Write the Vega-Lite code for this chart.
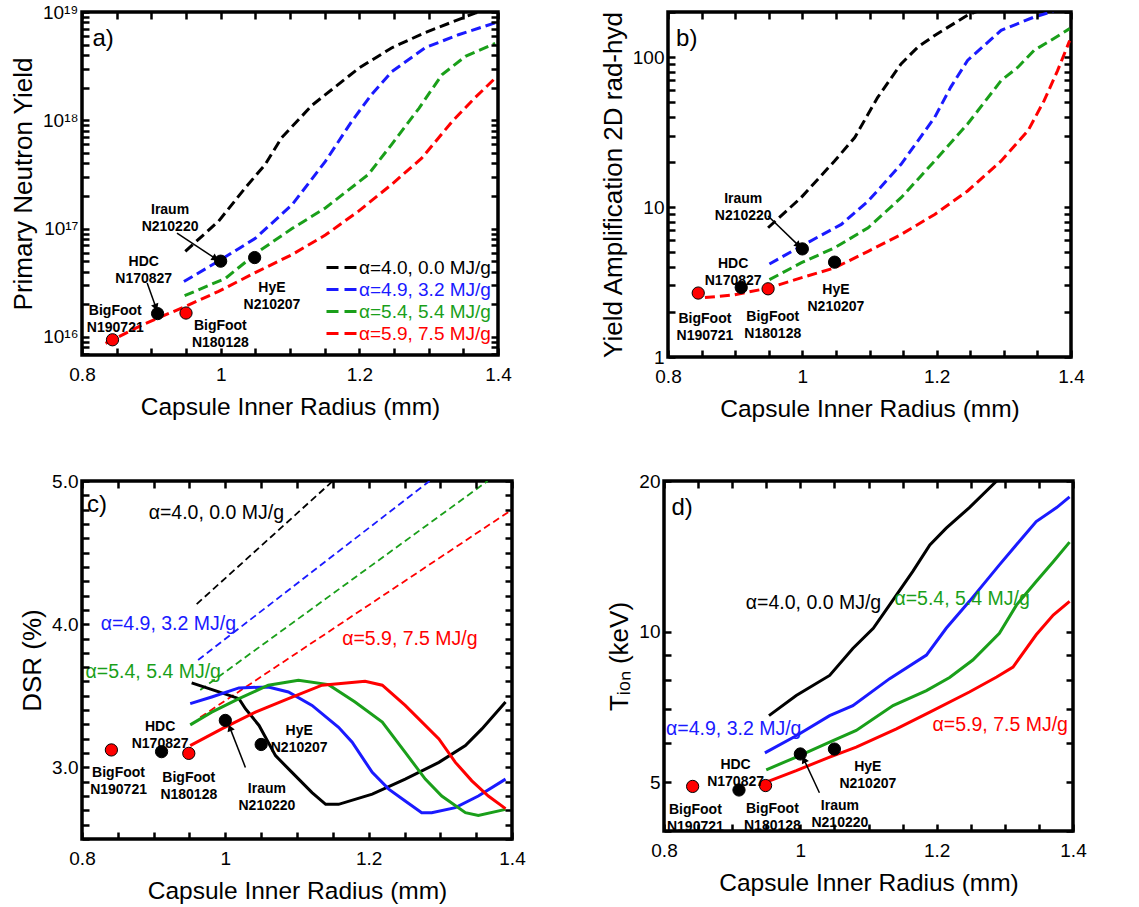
{
  "$schema": "https://vega.github.io/schema/vega-lite/v6.json",
  "background": "white",
  "padding": {"left": 8, "top": 1, "right": 5, "bottom": 5},
  "config": {
    "font": "Liberation Sans",
    "view": {"stroke": "black", "strokeWidth": 3.5, "fill": "transparent"},
    "axis": {"domain": false, "grid": false, "ticks": true, "labelFontSize": 19, "titleFontSize": 24.5, "titleFontWeight": "normal", "labelColor": "black", "titleColor": "black", "tickColor": "black", "tickWidth": 2.5, "tickSize": 7, "offset": -7, "zindex": 2, "labelFont": "Liberation Sans", "titleFont": "Liberation Sans", "labelOverlap": false, "labelFlush": false},
    "axisX": {"labelPadding": 10, "titlePadding": 11},
    "axisY": {"labelPadding": 4, "titleFontSize": 26, "titlePadding": 6},
    "text": {"font": "Liberation Sans"},
    "legend": {"labelFont": "Liberation Sans", "labelFontSize": 19, "symbolType": "M-1.5,0H1.5", "symbolStrokeWidth": 3, "symbolDash": [12, 6], "symbolSize": 400, "labelOffset": 6, "rowPadding": 0, "padding": 0, "title": null}
  },
  "datasets": {
    "a_curves": [
      {"s": "α=4.0, 0.0 MJ/g", "r": 0.949, "v": 6.17e16}, {"s": "α=4.0, 0.0 MJ/g", "r": 0.997, "v": 1.17e17}, {"s": "α=4.0, 0.0 MJ/g", "r": 1.036, "v": 2.4e17}, {"s": "α=4.0, 0.0 MJ/g", "r": 1.064, "v": 3.89e17}, {"s": "α=4.0, 0.0 MJ/g", "r": 1.088, "v": 6.92e17}, {"s": "α=4.0, 0.0 MJ/g", "r": 1.132, "v": 1.38e18}, {"s": "α=4.0, 0.0 MJ/g", "r": 1.199, "v": 3.02e18}, {"s": "α=4.0, 0.0 MJ/g", "r": 1.247, "v": 4.68e18}, {"s": "α=4.0, 0.0 MJ/g", "r": 1.295, "v": 6.46e18}, {"s": "α=4.0, 0.0 MJ/g", "r": 1.367, "v": 9.77e18}, {"s": "α=4.0, 0.0 MJ/g", "r": 1.4, "v": 1.12e19},
      {"s": "α=4.9, 3.2 MJ/g", "r": 0.947, "v": 3.24e16}, {"s": "α=4.9, 3.2 MJ/g", "r": 0.997, "v": 5.01e16}, {"s": "α=4.9, 3.2 MJ/g", "r": 1.05, "v": 8.13e16}, {"s": "α=4.9, 3.2 MJ/g", "r": 1.103, "v": 1.66e17}, {"s": "α=4.9, 3.2 MJ/g", "r": 1.151, "v": 4.17e17}, {"s": "α=4.9, 3.2 MJ/g", "r": 1.189, "v": 9.77e17}, {"s": "α=4.9, 3.2 MJ/g", "r": 1.218, "v": 1.74e18}, {"s": "α=4.9, 3.2 MJ/g", "r": 1.247, "v": 2.82e18}, {"s": "α=4.9, 3.2 MJ/g", "r": 1.295, "v": 4.68e18}, {"s": "α=4.9, 3.2 MJ/g", "r": 1.343, "v": 6.17e18}, {"s": "α=4.9, 3.2 MJ/g", "r": 1.396, "v": 7.94e18},
      {"s": "α=5.4, 5.4 MJ/g", "r": 0.948, "v": 2.4e16}, {"s": "α=5.4, 5.4 MJ/g", "r": 1.007, "v": 3.47e16}, {"s": "α=5.4, 5.4 MJ/g", "r": 1.055, "v": 6.17e16}, {"s": "α=5.4, 5.4 MJ/g", "r": 1.103, "v": 1.0e17}, {"s": "α=5.4, 5.4 MJ/g", "r": 1.151, "v": 1.55e17}, {"s": "α=5.4, 5.4 MJ/g", "r": 1.213, "v": 3.16e17}, {"s": "α=5.4, 5.4 MJ/g", "r": 1.247, "v": 6.03e17}, {"s": "α=5.4, 5.4 MJ/g", "r": 1.286, "v": 1.29e18}, {"s": "α=5.4, 5.4 MJ/g", "r": 1.319, "v": 2.63e18}, {"s": "α=5.4, 5.4 MJ/g", "r": 1.353, "v": 3.89e18}, {"s": "α=5.4, 5.4 MJ/g", "r": 1.396, "v": 5.13e18},
      {"s": "α=5.9, 7.5 MJ/g", "r": 0.834, "v": 8.71e15}, {"s": "α=5.9, 7.5 MJ/g", "r": 0.887, "v": 1.29e16}, {"s": "α=5.9, 7.5 MJ/g", "r": 0.949, "v": 1.91e16}, {"s": "α=5.9, 7.5 MJ/g", "r": 0.997, "v": 2.63e16}, {"s": "α=5.9, 7.5 MJ/g", "r": 1.055, "v": 4.07e16}, {"s": "α=5.9, 7.5 MJ/g", "r": 1.103, "v": 5.75e16}, {"s": "α=5.9, 7.5 MJ/g", "r": 1.151, "v": 8.71e16}, {"s": "α=5.9, 7.5 MJ/g", "r": 1.199, "v": 1.45e17}, {"s": "α=5.9, 7.5 MJ/g", "r": 1.247, "v": 2.57e17}, {"s": "α=5.9, 7.5 MJ/g", "r": 1.29, "v": 4.47e17}, {"s": "α=5.9, 7.5 MJ/g", "r": 1.334, "v": 9.77e17}, {"s": "α=5.9, 7.5 MJ/g", "r": 1.367, "v": 1.62e18}, {"s": "α=5.9, 7.5 MJ/g", "r": 1.396, "v": 2.45e18}
    ],
    "b_curves": [
      {"s": "α=4.0, 0.0 MJ/g", "r": 0.949, "v": 7.28}, {"s": "α=4.0, 0.0 MJ/g", "r": 0.998, "v": 11.55}, {"s": "α=4.0, 0.0 MJ/g", "r": 1.048, "v": 20.3}, {"s": "α=4.0, 0.0 MJ/g", "r": 1.078, "v": 29.1}, {"s": "α=4.0, 0.0 MJ/g", "r": 1.112, "v": 53.7}, {"s": "α=4.0, 0.0 MJ/g", "r": 1.147, "v": 90.2}, {"s": "α=4.0, 0.0 MJ/g", "r": 1.172, "v": 116.7}, {"s": "α=4.0, 0.0 MJ/g", "r": 1.197, "v": 139.6}, {"s": "α=4.0, 0.0 MJ/g", "r": 1.246, "v": 190.5}, {"s": "α=4.0, 0.0 MJ/g", "r": 1.27, "v": 210},
      {"s": "α=4.9, 3.2 MJ/g", "r": 0.951, "v": 4.17}, {"s": "α=4.9, 3.2 MJ/g", "r": 0.998, "v": 5.48}, {"s": "α=4.9, 3.2 MJ/g", "r": 1.058, "v": 7.66}, {"s": "α=4.9, 3.2 MJ/g", "r": 1.098, "v": 10.96}, {"s": "α=4.9, 3.2 MJ/g", "r": 1.147, "v": 19.3}, {"s": "α=4.9, 3.2 MJ/g", "r": 1.197, "v": 39.6}, {"s": "α=4.9, 3.2 MJ/g", "r": 1.221, "v": 63.1}, {"s": "α=4.9, 3.2 MJ/g", "r": 1.246, "v": 95.1}, {"s": "α=4.9, 3.2 MJ/g", "r": 1.296, "v": 151}, {"s": "α=4.9, 3.2 MJ/g", "r": 1.345, "v": 185}, {"s": "α=4.9, 3.2 MJ/g", "r": 1.37, "v": 200}, {"s": "α=4.9, 3.2 MJ/g", "r": 1.38, "v": 210},
      {"s": "α=5.4, 5.4 MJ/g", "r": 0.951, "v": 3.28}, {"s": "α=5.4, 5.4 MJ/g", "r": 0.998, "v": 4.24}, {"s": "α=5.4, 5.4 MJ/g", "r": 1.048, "v": 5.35}, {"s": "α=5.4, 5.4 MJ/g", "r": 1.098, "v": 7.28}, {"s": "α=5.4, 5.4 MJ/g", "r": 1.147, "v": 11.55}, {"s": "α=5.4, 5.4 MJ/g", "r": 1.197, "v": 20.3}, {"s": "α=5.4, 5.4 MJ/g", "r": 1.246, "v": 35.8}, {"s": "α=5.4, 5.4 MJ/g", "r": 1.296, "v": 69.8}, {"s": "α=5.4, 5.4 MJ/g", "r": 1.321, "v": 85.7}, {"s": "α=5.4, 5.4 MJ/g", "r": 1.345, "v": 110.9}, {"s": "α=5.4, 5.4 MJ/g", "r": 1.37, "v": 129.4}, {"s": "α=5.4, 5.4 MJ/g", "r": 1.398, "v": 154.9},
      {"s": "α=5.9, 7.5 MJ/g", "r": 0.855, "v": 2.49}, {"s": "α=5.9, 7.5 MJ/g", "r": 0.899, "v": 2.6}, {"s": "α=5.9, 7.5 MJ/g", "r": 0.949, "v": 2.88}, {"s": "α=5.9, 7.5 MJ/g", "r": 0.998, "v": 3.37}, {"s": "α=5.9, 7.5 MJ/g", "r": 1.048, "v": 3.93}, {"s": "α=5.9, 7.5 MJ/g", "r": 1.098, "v": 5.07}, {"s": "α=5.9, 7.5 MJ/g", "r": 1.147, "v": 6.56}, {"s": "α=5.9, 7.5 MJ/g", "r": 1.197, "v": 8.93}, {"s": "α=5.9, 7.5 MJ/g", "r": 1.246, "v": 12.8}, {"s": "α=5.9, 7.5 MJ/g", "r": 1.296, "v": 20.3}, {"s": "α=5.9, 7.5 MJ/g", "r": 1.336, "v": 32.3}, {"s": "α=5.9, 7.5 MJ/g", "r": 1.36, "v": 51.3}, {"s": "α=5.9, 7.5 MJ/g", "r": 1.38, "v": 81.3}, {"s": "α=5.9, 7.5 MJ/g", "r": 1.398, "v": 128.8}
    ],
    "c_dash": [
      {"s": "α=4.0, 0.0 MJ/g", "r": 0.96, "v": 4.14}, {"s": "α=4.0, 0.0 MJ/g", "r": 1.15, "v": 5.0},
      {"s": "α=4.9, 3.2 MJ/g", "r": 0.962, "v": 3.75}, {"s": "α=4.9, 3.2 MJ/g", "r": 1.285, "v": 5.0},
      {"s": "α=5.4, 5.4 MJ/g", "r": 0.965, "v": 3.54}, {"s": "α=5.4, 5.4 MJ/g", "r": 1.366, "v": 5.0},
      {"s": "α=5.9, 7.5 MJ/g", "r": 0.965, "v": 3.35}, {"s": "α=5.9, 7.5 MJ/g", "r": 1.4, "v": 4.8}
    ],
    "c_solid": [
      {"s": "α=4.0, 0.0 MJ/g", "r": 0.953, "v": 3.59}, {"s": "α=4.0, 0.0 MJ/g", "r": 0.991, "v": 3.527}, {"s": "α=4.0, 0.0 MJ/g", "r": 1.019, "v": 3.48}, {"s": "α=4.0, 0.0 MJ/g", "r": 1.028, "v": 3.41}, {"s": "α=4.0, 0.0 MJ/g", "r": 1.047, "v": 3.293}, {"s": "α=4.0, 0.0 MJ/g", "r": 1.07, "v": 3.082}, {"s": "α=4.0, 0.0 MJ/g", "r": 1.093, "v": 2.965}, {"s": "α=4.0, 0.0 MJ/g", "r": 1.121, "v": 2.824}, {"s": "α=4.0, 0.0 MJ/g", "r": 1.14, "v": 2.742}, {"s": "α=4.0, 0.0 MJ/g", "r": 1.158, "v": 2.742}, {"s": "α=4.0, 0.0 MJ/g", "r": 1.205, "v": 2.813}, {"s": "α=4.0, 0.0 MJ/g", "r": 1.251, "v": 2.918}, {"s": "α=4.0, 0.0 MJ/g", "r": 1.298, "v": 3.035}, {"s": "α=4.0, 0.0 MJ/g", "r": 1.335, "v": 3.152}, {"s": "α=4.0, 0.0 MJ/g", "r": 1.358, "v": 3.269}, {"s": "α=4.0, 0.0 MJ/g", "r": 1.391, "v": 3.457},
      {"s": "α=4.9, 3.2 MJ/g", "r": 0.951, "v": 3.445}, {"s": "α=4.9, 3.2 MJ/g", "r": 0.981, "v": 3.492}, {"s": "α=4.9, 3.2 MJ/g", "r": 1.019, "v": 3.555}, {"s": "α=4.9, 3.2 MJ/g", "r": 1.06, "v": 3.562}, {"s": "α=4.9, 3.2 MJ/g", "r": 1.088, "v": 3.527}, {"s": "α=4.9, 3.2 MJ/g", "r": 1.121, "v": 3.433}, {"s": "α=4.9, 3.2 MJ/g", "r": 1.158, "v": 3.28}, {"s": "α=4.9, 3.2 MJ/g", "r": 1.177, "v": 3.176}, {"s": "α=4.9, 3.2 MJ/g", "r": 1.205, "v": 2.965}, {"s": "α=4.9, 3.2 MJ/g", "r": 1.228, "v": 2.848}, {"s": "α=4.9, 3.2 MJ/g", "r": 1.251, "v": 2.766}, {"s": "α=4.9, 3.2 MJ/g", "r": 1.274, "v": 2.684}, {"s": "α=4.9, 3.2 MJ/g", "r": 1.288, "v": 2.684}, {"s": "α=4.9, 3.2 MJ/g", "r": 1.321, "v": 2.719}, {"s": "α=4.9, 3.2 MJ/g", "r": 1.353, "v": 2.8}, {"s": "α=4.9, 3.2 MJ/g", "r": 1.391, "v": 2.918},
      {"s": "α=5.4, 5.4 MJ/g", "r": 0.951, "v": 3.297}, {"s": "α=5.4, 5.4 MJ/g", "r": 0.981, "v": 3.386}, {"s": "α=5.4, 5.4 MJ/g", "r": 1.019, "v": 3.48}, {"s": "α=5.4, 5.4 MJ/g", "r": 1.06, "v": 3.574}, {"s": "α=5.4, 5.4 MJ/g", "r": 1.102, "v": 3.609}, {"s": "α=5.4, 5.4 MJ/g", "r": 1.144, "v": 3.578}, {"s": "α=5.4, 5.4 MJ/g", "r": 1.181, "v": 3.457}, {"s": "α=5.4, 5.4 MJ/g", "r": 1.219, "v": 3.316}, {"s": "α=5.4, 5.4 MJ/g", "r": 1.251, "v": 3.105}, {"s": "α=5.4, 5.4 MJ/g", "r": 1.279, "v": 2.918}, {"s": "α=5.4, 5.4 MJ/g", "r": 1.302, "v": 2.8}, {"s": "α=5.4, 5.4 MJ/g", "r": 1.335, "v": 2.684}, {"s": "α=5.4, 5.4 MJ/g", "r": 1.353, "v": 2.665}, {"s": "α=5.4, 5.4 MJ/g", "r": 1.391, "v": 2.707},
      {"s": "α=5.9, 7.5 MJ/g", "r": 0.951, "v": 3.152}, {"s": "α=5.9, 7.5 MJ/g", "r": 0.995, "v": 3.269}, {"s": "α=5.9, 7.5 MJ/g", "r": 1.042, "v": 3.386}, {"s": "α=5.9, 7.5 MJ/g", "r": 1.088, "v": 3.48}, {"s": "α=5.9, 7.5 MJ/g", "r": 1.135, "v": 3.574}, {"s": "α=5.9, 7.5 MJ/g", "r": 1.195, "v": 3.602}, {"s": "α=5.9, 7.5 MJ/g", "r": 1.219, "v": 3.574}, {"s": "α=5.9, 7.5 MJ/g", "r": 1.251, "v": 3.433}, {"s": "α=5.9, 7.5 MJ/g", "r": 1.298, "v": 3.199}, {"s": "α=5.9, 7.5 MJ/g", "r": 1.321, "v": 3.035}, {"s": "α=5.9, 7.5 MJ/g", "r": 1.344, "v": 2.906}, {"s": "α=5.9, 7.5 MJ/g", "r": 1.367, "v": 2.8}, {"s": "α=5.9, 7.5 MJ/g", "r": 1.391, "v": 2.712}
    ],
    "d_curves": [
      {"s": "α=4.0, 0.0 MJ/g", "r": 0.954, "v": 6.8}, {"s": "α=4.0, 0.0 MJ/g", "r": 0.994, "v": 7.46}, {"s": "α=4.0, 0.0 MJ/g", "r": 1.043, "v": 8.18}, {"s": "α=4.0, 0.0 MJ/g", "r": 1.077, "v": 9.26}, {"s": "α=4.0, 0.0 MJ/g", "r": 1.107, "v": 10.16}, {"s": "α=4.0, 0.0 MJ/g", "r": 1.131, "v": 11.32}, {"s": "α=4.0, 0.0 MJ/g", "r": 1.165, "v": 13.2}, {"s": "α=4.0, 0.0 MJ/g", "r": 1.19, "v": 14.9}, {"s": "α=4.0, 0.0 MJ/g", "r": 1.214, "v": 16.1}, {"s": "α=4.0, 0.0 MJ/g", "r": 1.248, "v": 17.7}, {"s": "α=4.0, 0.0 MJ/g", "r": 1.288, "v": 20.0},
      {"s": "α=4.9, 3.2 MJ/g", "r": 0.948, "v": 5.73}, {"s": "α=4.9, 3.2 MJ/g", "r": 0.994, "v": 6.2}, {"s": "α=4.9, 3.2 MJ/g", "r": 1.043, "v": 6.8}, {"s": "α=4.9, 3.2 MJ/g", "r": 1.077, "v": 7.12}, {"s": "α=4.9, 3.2 MJ/g", "r": 1.131, "v": 8.06}, {"s": "α=4.9, 3.2 MJ/g", "r": 1.185, "v": 8.98}, {"s": "α=4.9, 3.2 MJ/g", "r": 1.214, "v": 10.16}, {"s": "α=4.9, 3.2 MJ/g", "r": 1.248, "v": 11.5}, {"s": "α=4.9, 3.2 MJ/g", "r": 1.292, "v": 13.6}, {"s": "α=4.9, 3.2 MJ/g", "r": 1.322, "v": 15.2}, {"s": "α=4.9, 3.2 MJ/g", "r": 1.346, "v": 16.6}, {"s": "α=4.9, 3.2 MJ/g", "r": 1.376, "v": 17.7}, {"s": "α=4.9, 3.2 MJ/g", "r": 1.395, "v": 18.6},
      {"s": "α=5.4, 5.4 MJ/g", "r": 0.95, "v": 5.3}, {"s": "α=5.4, 5.4 MJ/g", "r": 0.994, "v": 5.62}, {"s": "α=5.4, 5.4 MJ/g", "r": 1.043, "v": 6.02}, {"s": "α=5.4, 5.4 MJ/g", "r": 1.082, "v": 6.35}, {"s": "α=5.4, 5.4 MJ/g", "r": 1.136, "v": 7.12}, {"s": "α=5.4, 5.4 MJ/g", "r": 1.185, "v": 7.63}, {"s": "α=5.4, 5.4 MJ/g", "r": 1.219, "v": 8.1}, {"s": "α=5.4, 5.4 MJ/g", "r": 1.253, "v": 8.78}, {"s": "α=5.4, 5.4 MJ/g", "r": 1.292, "v": 9.93}, {"s": "α=5.4, 5.4 MJ/g", "r": 1.317, "v": 11.3}, {"s": "α=5.4, 5.4 MJ/g", "r": 1.346, "v": 12.6}, {"s": "α=5.4, 5.4 MJ/g", "r": 1.371, "v": 13.8}, {"s": "α=5.4, 5.4 MJ/g", "r": 1.395, "v": 15.1},
      {"s": "α=5.9, 7.5 MJ/g", "r": 0.95, "v": 5.01}, {"s": "α=5.9, 7.5 MJ/g", "r": 0.994, "v": 5.28}, {"s": "α=5.9, 7.5 MJ/g", "r": 1.043, "v": 5.62}, {"s": "α=5.9, 7.5 MJ/g", "r": 1.082, "v": 5.88}, {"s": "α=5.9, 7.5 MJ/g", "r": 1.141, "v": 6.4}, {"s": "α=5.9, 7.5 MJ/g", "r": 1.19, "v": 6.91}, {"s": "α=5.9, 7.5 MJ/g", "r": 1.248, "v": 7.58}, {"s": "α=5.9, 7.5 MJ/g", "r": 1.288, "v": 8.12}, {"s": "α=5.9, 7.5 MJ/g", "r": 1.312, "v": 8.5}, {"s": "α=5.9, 7.5 MJ/g", "r": 1.346, "v": 9.86}, {"s": "α=5.9, 7.5 MJ/g", "r": 1.371, "v": 10.8}, {"s": "α=5.9, 7.5 MJ/g", "r": 1.395, "v": 11.5}
    ],
    "a_pts": [
      {"r": 0.844, "v": 9.4e15, "g": "BigFoot", "lab": "BigFoot\nN190721", "lr": 0.848, "lv": 1.73e16},
      {"r": 0.909, "v": 1.64e16, "g": "Other", "lab": "HDC\nN170827", "lr": 0.889, "lv": 4.89e16},
      {"r": 0.95, "v": 1.66e16, "g": "BigFoot", "lab": "BigFoot\nN180128", "lr": 0.9995, "lv": 1.27e16},
      {"r": 1.0, "v": 5.0e16, "g": "Other", "lab": "Iraum\nN210220", "lr": 0.927, "lv": 1.47e17},
      {"r": 1.049, "v": 5.4e16, "g": "Other", "lab": "HyE\nN210207", "lr": 1.074, "lv": 2.83e16}
    ],
    "b_pts": [
      {"r": 0.845, "v": 2.67, "g": "BigFoot", "lab": "BigFoot\nN190721", "lr": 0.855, "lv": 1.79},
      {"r": 0.909, "v": 2.91, "g": "Other", "lab": "HDC\nN170827", "lr": 0.897, "lv": 4.18},
      {"r": 0.949, "v": 2.85, "g": "BigFoot", "lab": "BigFoot\nN180128", "lr": 0.956, "lv": 1.85},
      {"r": 1.0, "v": 5.26, "g": "Other", "lab": "Iraum\nN210220", "lr": 0.912, "lv": 11.4},
      {"r": 1.048, "v": 4.29, "g": "Other", "lab": "HyE\nN210207", "lr": 1.05, "lv": 2.81}
    ],
    "c_pts": [
      {"r": 0.841, "v": 3.122, "g": "BigFoot", "lab": "BigFoot\nN190721", "lr": 0.851, "lv": 2.96},
      {"r": 0.911, "v": 3.11, "g": "Other", "lab": "HDC\nN170827", "lr": 0.909, "lv": 3.283},
      {"r": 0.949, "v": 3.098, "g": "BigFoot", "lab": "BigFoot\nN180128", "lr": 0.949, "lv": 2.925},
      {"r": 1.0, "v": 3.328, "g": "Other", "lab": "Iraum\nN210220", "lr": 1.058, "lv": 2.848},
      {"r": 1.05, "v": 3.16, "g": "Other", "lab": "HyE\nN210207", "lr": 1.103, "lv": 3.251}
    ],
    "d_pts": [
      {"r": 0.842, "v": 4.91, "g": "BigFoot", "lab": "BigFoot\nN190721", "lr": 0.846, "lv": 4.4},
      {"r": 0.91, "v": 4.83, "g": "Other", "lab": "HDC\nN170827", "lr": 0.905, "lv": 5.41},
      {"r": 0.949, "v": 4.93, "g": "BigFoot", "lab": "BigFoot\nN180128", "lr": 0.959, "lv": 4.42},
      {"r": 1.0, "v": 5.7, "g": "Other", "lab": "Iraum\nN210220", "lr": 1.058, "lv": 4.48},
      {"r": 1.05, "v": 5.83, "g": "Other", "lab": "HyE\nN210207", "lr": 1.099, "lv": 5.36}
    ],
    "a_arrows": [{"r": 0.937, "v": 9.1e16, "r2": 0.991, "v2": 5.36e16, "ang": 123.6}, {"r": 0.894, "v": 3.15e16, "r2": 0.906, "v2": 1.92e16, "ang": 160}],
    "b_arrows": [{"r": 0.949, "v": 8.71, "r2": 0.993, "v2": 5.62, "ang": 133.4}],
    "c_arrows": [{"r": 1.028, "v": 3.0, "r2": 1.007, "v2": 3.269, "ang": 338.6}],
    "d_arrows": [{"r": 1.028, "v": 4.77, "r2": 1.006, "v2": 5.53, "ang": 334.7}],
    "a_tag": [{"r": 0.815, "v": 5.6e18, "t": "a)"}],
    "b_tag": [{"r": 0.812, "v": 133, "t": "b)"}],
    "c_tag": [{"r": 0.807, "v": 4.83, "t": "c)"}],
    "d_tag": [{"r": 0.811, "v": 17.7, "t": "d)"}],
    "c_cl": [
      {"r": 0.893, "v": 4.78, "s": "α=4.0, 0.0 MJ/g"}, {"r": 0.826, "v": 4.0, "s": "α=4.9, 3.2 MJ/g"}, {"r": 0.805, "v": 3.663, "s": "α=5.4, 5.4 MJ/g"}, {"r": 1.163, "v": 3.897, "s": "α=5.9, 7.5 MJ/g"}
    ],
    "d_cl": [
      {"r": 0.92, "v": 11.4, "s": "α=4.0, 0.0 MJ/g"}, {"r": 0.803, "v": 6.4, "s": "α=4.9, 3.2 MJ/g"}, {"r": 1.138, "v": 11.6, "s": "α=5.4, 5.4 MJ/g"}, {"r": 1.194, "v": 6.5, "s": "α=5.9, 7.5 MJ/g"}
    ]
  },
  "vconcat": [
    {
      "hconcat": [
        {
          "width": 416, "height": 343,
          "resolve": {"axis": {"x": "independent", "y": "independent"}},
          "layer": [
            {
              "data": {"name": "a_curves"},
              "mark": {"type": "line", "strokeWidth": 3, "strokeDash": [10, 5], "clip": true},
              "encoding": {
                "x": {"field": "r", "type": "quantitative", "scale": {"domain": [0.8, 1.4], "nice": false, "zero": false},
                  "axis": {"orient": "bottom", "title": "Capsule Inner Radius (mm)", "ticks": true, "tickColor": "black", "tickSize": 7, "tickWidth": 2.5, "offset": -7, "zindex": 2, "values": [0.8, 0.85, 0.9, 0.95, 1, 1.05, 1.1, 1.15, 1.2, 1.25, 1.3, 1.35, 1.4], "labelExpr": "abs(datum.value*5-round(datum.value*5))<1e-6 ? (datum.value==1 ? '1' : format(datum.value, '.1f')) : ''"}},
                "y": {"field": "v", "type": "quantitative", "scale": {"type": "log", "domain": [6.8e15, 1e19], "nice": false},
                  "axis": {"orient": "left", "title": "Primary Neutron Yield", "ticks": true, "tickColor": "black", "tickSize": 7, "tickWidth": 2.5, "offset": -7, "zindex": 2, "values": [7e15, 8e15, 9e15, 1e16, 2e16, 3e16, 4e16, 5e16, 6e16, 7e16, 8e16, 9e16, 1e17, 2e17, 3e17, 4e17, 5e17, 6e17, 7e17, 8e17, 9e17, 1e18, 2e18, 3e18, 4e18, 5e18, 6e18, 7e18, 8e18, 9e18, 1e19], "labelExpr": "datum.value==1e16 ? '10¹⁶' : datum.value==1e17 ? '10¹⁷' : datum.value==1e18 ? '10¹⁸' : datum.value==1e19 ? '10¹⁹' : ''"}},
                "color": {"field": "s", "type": "nominal", "scale": {"domain": ["α=4.0, 0.0 MJ/g", "α=4.9, 3.2 MJ/g", "α=5.4, 5.4 MJ/g", "α=5.9, 7.5 MJ/g"], "range": ["#000000", "#1a1aff", "#1a9f1a", "#ff0000"]},
                  "legend": {"orient": "none", "legendX": 248, "legendY": 244, "encode": {"labels": {"update": {"fill": {"signal": "datum.value=='α=4.0, 0.0 MJ/g' ? '#000000' : datum.value=='α=4.9, 3.2 MJ/g' ? '#1a1aff' : datum.value=='α=5.4, 5.4 MJ/g' ? '#1a9f1a' : '#ff0000'"}}}}}}
              }
            },
            {
              "data": {"name": "a_arrows"},
              "mark": {"type": "rule", "strokeWidth": 1.5, "color": "black"},
              "encoding": {"x": {"field": "r", "type": "quantitative", "axis": null}, "y": {"field": "v", "type": "quantitative", "axis": null}, "x2": {"field": "r2"}, "y2": {"field": "v2"}}
            },
            {
              "data": {"name": "a_arrows"},
              "mark": {"type": "point", "shape": "triangle", "filled": true, "color": "black", "size": 60, "opacity": 1},
              "encoding": {"x": {"field": "r2", "type": "quantitative", "axis": null}, "y": {"field": "v2", "type": "quantitative", "axis": null}, "angle": {"field": "ang", "type": "quantitative", "scale": null}}
            },
            {
              "data": {"name": "a_pts"},
              "mark": {"type": "circle", "size": 150, "stroke": "black", "strokeWidth": 1, "opacity": 1},
              "encoding": {
                "x": {"field": "r", "type": "quantitative", "axis": {"orient": "top", "labels": false, "title": null, "ticks": true, "tickColor": "black", "tickSize": 7, "tickWidth": 2.5, "offset": -7, "zindex": 2, "values": [0.8, 0.85, 0.9, 0.95, 1, 1.05, 1.1, 1.15, 1.2, 1.25, 1.3, 1.35, 1.4]}},
                "y": {"field": "v", "type": "quantitative", "axis": {"orient": "right", "labels": false, "title": null, "ticks": true, "tickColor": "black", "tickSize": 7, "tickWidth": 2.5, "offset": -7, "zindex": 2, "values": [7e15, 8e15, 9e15, 1e16, 2e16, 3e16, 4e16, 5e16, 6e16, 7e16, 8e16, 9e16, 1e17, 2e17, 3e17, 4e17, 5e17, 6e17, 7e17, 8e17, 9e17, 1e18, 2e18, 3e18, 4e18, 5e18, 6e18, 7e18, 8e18, 9e18, 1e19]}},
                "fill": {"field": "g", "type": "nominal", "scale": {"domain": ["BigFoot", "Other"], "range": ["#ff0000", "#000000"]}, "legend": null}
              }
            },
            {
              "data": {"name": "a_pts"},
              "mark": {"type": "text", "fontWeight": "bold", "fontSize": 14, "lineBreak": "\n", "lineHeight": 17, "align": "center", "baseline": "middle", "color": "black"},
              "encoding": {"x": {"field": "lr", "type": "quantitative", "axis": null}, "y": {"field": "lv", "type": "quantitative", "axis": null}, "text": {"field": "lab"}}
            },
            {
              "data": {"name": "a_tag"},
              "mark": {"type": "text", "fontSize": 24, "align": "left", "baseline": "middle", "color": "black"},
              "encoding": {"x": {"field": "r", "type": "quantitative", "axis": null}, "y": {"field": "v", "type": "quantitative", "axis": null}, "text": {"field": "t"}}
            }
          ]
        },
        {
          "width": 403, "height": 345,
          "resolve": {"axis": {"x": "independent", "y": "independent"}},
          "layer": [
            {
              "data": {"name": "b_curves"},
              "mark": {"type": "line", "strokeWidth": 3, "strokeDash": [10, 5], "clip": true},
              "encoding": {
                "x": {"field": "r", "type": "quantitative", "scale": {"domain": [0.8, 1.4], "nice": false, "zero": false},
                  "axis": {"orient": "bottom", "title": "Capsule Inner Radius (mm)", "ticks": true, "tickColor": "black", "tickSize": 7, "tickWidth": 2.5, "offset": -7, "zindex": 2, "values": [0.8, 0.85, 0.9, 0.95, 1, 1.05, 1.1, 1.15, 1.2, 1.25, 1.3, 1.35, 1.4], "labelExpr": "abs(datum.value*5-round(datum.value*5))<1e-6 ? (datum.value==1 ? '1' : format(datum.value, '.1f')) : ''"}},
                "y": {"field": "v", "type": "quantitative", "scale": {"type": "log", "domain": [1, 200], "nice": false},
                  "axis": {"orient": "left", "title": "Yield Amplification 2D rad-hyd", "ticks": true, "tickColor": "black", "tickSize": 7, "tickWidth": 2.5, "offset": -7, "zindex": 2, "values": [1, 2, 3, 4, 5, 6, 7, 8, 9, 10, 20, 30, 40, 50, 60, 70, 80, 90, 100, 200], "labelExpr": "datum.value==1 || datum.value==10 || datum.value==100 ? datum.label : ''"}},
                "color": {"field": "s", "type": "nominal", "scale": {"domain": ["α=4.0, 0.0 MJ/g", "α=4.9, 3.2 MJ/g", "α=5.4, 5.4 MJ/g", "α=5.9, 7.5 MJ/g"], "range": ["#000000", "#1a1aff", "#1a9f1a", "#ff0000"]},
                  "legend": {"orient": "none", "legendX": 237, "legendY": 243, "encode": {"labels": {"update": {"fill": {"signal": "datum.value=='α=4.0, 0.0 MJ/g' ? '#000000' : datum.value=='α=4.9, 3.2 MJ/g' ? '#1a1aff' : datum.value=='α=5.4, 5.4 MJ/g' ? '#1a9f1a' : '#ff0000'"}}}}}}
              }
            },
            {
              "data": {"name": "b_arrows"},
              "mark": {"type": "rule", "strokeWidth": 1.5, "color": "black"},
              "encoding": {"x": {"field": "r", "type": "quantitative", "axis": null}, "y": {"field": "v", "type": "quantitative", "axis": null}, "x2": {"field": "r2"}, "y2": {"field": "v2"}}
            },
            {
              "data": {"name": "b_arrows"},
              "mark": {"type": "point", "shape": "triangle", "filled": true, "color": "black", "size": 60, "opacity": 1},
              "encoding": {"x": {"field": "r2", "type": "quantitative", "axis": null}, "y": {"field": "v2", "type": "quantitative", "axis": null}, "angle": {"field": "ang", "type": "quantitative", "scale": null}}
            },
            {
              "data": {"name": "b_pts"},
              "mark": {"type": "circle", "size": 150, "stroke": "black", "strokeWidth": 1, "opacity": 1},
              "encoding": {
                "x": {"field": "r", "type": "quantitative", "axis": {"orient": "top", "labels": false, "title": null, "ticks": true, "tickColor": "black", "tickSize": 7, "tickWidth": 2.5, "offset": -7, "zindex": 2, "values": [0.8, 0.85, 0.9, 0.95, 1, 1.05, 1.1, 1.15, 1.2, 1.25, 1.3, 1.35, 1.4]}},
                "y": {"field": "v", "type": "quantitative", "axis": {"orient": "right", "labels": false, "title": null, "ticks": true, "tickColor": "black", "tickSize": 7, "tickWidth": 2.5, "offset": -7, "zindex": 2, "values": [1, 2, 3, 4, 5, 6, 7, 8, 9, 10, 20, 30, 40, 50, 60, 70, 80, 90, 100, 200]}},
                "fill": {"field": "g", "type": "nominal", "scale": {"domain": ["BigFoot", "Other"], "range": ["#ff0000", "#000000"]}, "legend": null}
              }
            },
            {
              "data": {"name": "b_pts"},
              "mark": {"type": "text", "fontWeight": "bold", "fontSize": 14, "lineBreak": "\n", "lineHeight": 17, "align": "center", "baseline": "middle", "color": "black"},
              "encoding": {"x": {"field": "lr", "type": "quantitative", "axis": null}, "y": {"field": "lv", "type": "quantitative", "axis": null}, "text": {"field": "lab"}}
            },
            {
              "data": {"name": "b_tag"},
              "mark": {"type": "text", "fontSize": 24, "align": "left", "baseline": "middle", "color": "black"},
              "encoding": {"x": {"field": "r", "type": "quantitative", "axis": null}, "y": {"field": "v", "type": "quantitative", "axis": null}, "text": {"field": "t"}}
            }
          ]
        }
      ],
      "spacing": 85
    },
    {
      "hconcat": [
        {
          "width": 430, "height": 358,
          "resolve": {"axis": {"x": "independent", "y": "independent"}},
          "layer": [
            {
              "data": {"name": "c_dash"},
              "mark": {"type": "line", "strokeWidth": 1.8, "strokeDash": [7, 4], "clip": true},
              "encoding": {
                "x": {"field": "r", "type": "quantitative", "scale": {"domain": [0.8, 1.4], "nice": false, "zero": false},
                  "axis": {"orient": "bottom", "title": "Capsule Inner Radius (mm)", "ticks": true, "tickColor": "black", "tickSize": 7, "tickWidth": 2.5, "offset": -7, "zindex": 2, "values": [0.8, 0.85, 0.9, 0.95, 1, 1.05, 1.1, 1.15, 1.2, 1.25, 1.3, 1.35, 1.4], "labelExpr": "abs(datum.value*5-round(datum.value*5))<1e-6 ? (datum.value==1 ? '1' : format(datum.value, '.1f')) : ''"}},
                "y": {"field": "v", "type": "quantitative", "scale": {"domain": [2.5, 5.0], "nice": false, "zero": false},
                  "axis": {"orient": "left", "title": "DSR (%)", "ticks": true, "tickColor": "black", "tickSize": 7, "tickWidth": 2.5, "offset": -7, "zindex": 2, "values": [2.5, 2.6, 2.7, 2.8, 2.9, 3.0, 3.1, 3.2, 3.3, 3.4, 3.5, 3.6, 3.7, 3.8, 3.9, 4.0, 4.1, 4.2, 4.3, 4.4, 4.5, 4.6, 4.7, 4.8, 4.9, 5.0], "labelExpr": "abs(datum.value-round(datum.value))<1e-6 ? format(datum.value, '.1f') : ''"}},
                "color": {"field": "s", "type": "nominal", "scale": {"domain": ["α=4.0, 0.0 MJ/g", "α=4.9, 3.2 MJ/g", "α=5.4, 5.4 MJ/g", "α=5.9, 7.5 MJ/g"], "range": ["#000000", "#1a1aff", "#1a9f1a", "#ff0000"]}, "legend": null}
              }
            },
            {
              "data": {"name": "c_solid"},
              "mark": {"type": "line", "strokeWidth": 3, "clip": true},
              "encoding": {
                "x": {"field": "r", "type": "quantitative", "axis": null},
                "y": {"field": "v", "type": "quantitative", "axis": null},
                "color": {"field": "s", "type": "nominal", "legend": null}
              }
            },
            {
              "data": {"name": "c_cl"},
              "mark": {"type": "text", "fontSize": 19.5, "align": "left", "baseline": "middle"},
              "encoding": {
                "x": {"field": "r", "type": "quantitative", "axis": null},
                "y": {"field": "v", "type": "quantitative", "axis": null},
                "text": {"field": "s"},
                "color": {"field": "s", "type": "nominal", "legend": null}
              }
            },
            {
              "data": {"name": "c_arrows"},
              "mark": {"type": "rule", "strokeWidth": 1.5, "color": "black"},
              "encoding": {"x": {"field": "r", "type": "quantitative", "axis": null}, "y": {"field": "v", "type": "quantitative", "axis": null}, "x2": {"field": "r2"}, "y2": {"field": "v2"}}
            },
            {
              "data": {"name": "c_arrows"},
              "mark": {"type": "point", "shape": "triangle", "filled": true, "color": "black", "size": 60, "opacity": 1},
              "encoding": {"x": {"field": "r2", "type": "quantitative", "axis": null}, "y": {"field": "v2", "type": "quantitative", "axis": null}, "angle": {"field": "ang", "type": "quantitative", "scale": null}}
            },
            {
              "data": {"name": "c_pts"},
              "mark": {"type": "circle", "size": 150, "stroke": "black", "strokeWidth": 1, "opacity": 1},
              "encoding": {
                "x": {"field": "r", "type": "quantitative", "axis": {"orient": "top", "labels": false, "title": null, "ticks": true, "tickColor": "black", "tickSize": 7, "tickWidth": 2.5, "offset": -7, "zindex": 2, "values": [0.8, 0.85, 0.9, 0.95, 1, 1.05, 1.1, 1.15, 1.2, 1.25, 1.3, 1.35, 1.4]}},
                "y": {"field": "v", "type": "quantitative", "axis": {"orient": "right", "labels": false, "title": null, "ticks": true, "tickColor": "black", "tickSize": 7, "tickWidth": 2.5, "offset": -7, "zindex": 2, "values": [2.5, 2.6, 2.7, 2.8, 2.9, 3.0, 3.1, 3.2, 3.3, 3.4, 3.5, 3.6, 3.7, 3.8, 3.9, 4.0, 4.1, 4.2, 4.3, 4.4, 4.5, 4.6, 4.7, 4.8, 4.9, 5.0]}},
                "fill": {"field": "g", "type": "nominal", "scale": {"domain": ["BigFoot", "Other"], "range": ["#ff0000", "#000000"]}, "legend": null}
              }
            },
            {
              "data": {"name": "c_pts"},
              "mark": {"type": "text", "fontWeight": "bold", "fontSize": 14, "lineBreak": "\n", "lineHeight": 17, "align": "center", "baseline": "middle", "color": "black"},
              "encoding": {"x": {"field": "lr", "type": "quantitative", "axis": null}, "y": {"field": "lv", "type": "quantitative", "axis": null}, "text": {"field": "lab"}}
            },
            {
              "data": {"name": "c_tag"},
              "mark": {"type": "text", "fontSize": 24, "align": "left", "baseline": "middle", "color": "black"},
              "encoding": {"x": {"field": "r", "type": "quantitative", "axis": null}, "y": {"field": "v", "type": "quantitative", "axis": null}, "text": {"field": "t"}}
            }
          ]
        },
        {
          "width": 409, "height": 350,
          "resolve": {"axis": {"x": "independent", "y": "independent"}},
          "layer": [
            {
              "data": {"name": "d_curves"},
              "mark": {"type": "line", "strokeWidth": 3, "clip": true},
              "encoding": {
                "x": {"field": "r", "type": "quantitative", "scale": {"domain": [0.8, 1.4], "nice": false, "zero": false},
                  "axis": {"orient": "bottom", "title": "Capsule Inner Radius (mm)", "ticks": true, "tickColor": "black", "tickSize": 7, "tickWidth": 2.5, "offset": -7, "zindex": 2, "values": [0.8, 0.85, 0.9, 0.95, 1, 1.05, 1.1, 1.15, 1.2, 1.25, 1.3, 1.35, 1.4], "labelExpr": "abs(datum.value*5-round(datum.value*5))<1e-6 ? (datum.value==1 ? '1' : format(datum.value, '.1f')) : ''"}},
                "y": {"field": "v", "type": "quantitative", "scale": {"type": "log", "domain": [4, 20], "nice": false},
                  "axis": {"orient": "left", "title": "Tᵢₒₙ (keV)", "ticks": true, "tickColor": "black", "tickSize": 7, "tickWidth": 2.5, "offset": -7, "zindex": 2, "values": [4, 5, 6, 7, 8, 9, 10, 20], "labelExpr": "datum.value==5 || datum.value==10 || datum.value==20 ? datum.label : ''"}},
                "color": {"field": "s", "type": "nominal", "scale": {"domain": ["α=4.0, 0.0 MJ/g", "α=4.9, 3.2 MJ/g", "α=5.4, 5.4 MJ/g", "α=5.9, 7.5 MJ/g"], "range": ["#000000", "#1a1aff", "#1a9f1a", "#ff0000"]}, "legend": null}
              }
            },
            {
              "data": {"name": "d_cl"},
              "mark": {"type": "text", "fontSize": 19.5, "align": "left", "baseline": "middle"},
              "encoding": {
                "x": {"field": "r", "type": "quantitative", "axis": null},
                "y": {"field": "v", "type": "quantitative", "axis": null},
                "text": {"field": "s"},
                "color": {"field": "s", "type": "nominal", "legend": null}
              }
            },
            {
              "data": {"name": "d_arrows"},
              "mark": {"type": "rule", "strokeWidth": 1.5, "color": "black"},
              "encoding": {"x": {"field": "r", "type": "quantitative", "axis": null}, "y": {"field": "v", "type": "quantitative", "axis": null}, "x2": {"field": "r2"}, "y2": {"field": "v2"}}
            },
            {
              "data": {"name": "d_arrows"},
              "mark": {"type": "point", "shape": "triangle", "filled": true, "color": "black", "size": 60, "opacity": 1},
              "encoding": {"x": {"field": "r2", "type": "quantitative", "axis": null}, "y": {"field": "v2", "type": "quantitative", "axis": null}, "angle": {"field": "ang", "type": "quantitative", "scale": null}}
            },
            {
              "data": {"name": "d_pts"},
              "mark": {"type": "circle", "size": 150, "stroke": "black", "strokeWidth": 1, "opacity": 1},
              "encoding": {
                "x": {"field": "r", "type": "quantitative", "axis": {"orient": "top", "labels": false, "title": null, "ticks": true, "tickColor": "black", "tickSize": 7, "tickWidth": 2.5, "offset": -7, "zindex": 2, "values": [0.8, 0.85, 0.9, 0.95, 1, 1.05, 1.1, 1.15, 1.2, 1.25, 1.3, 1.35, 1.4]}},
                "y": {"field": "v", "type": "quantitative", "axis": {"orient": "right", "labels": false, "title": null, "ticks": true, "tickColor": "black", "tickSize": 7, "tickWidth": 2.5, "offset": -7, "zindex": 2, "values": [4, 5, 6, 7, 8, 9, 10, 20]}},
                "fill": {"field": "g", "type": "nominal", "scale": {"domain": ["BigFoot", "Other"], "range": ["#ff0000", "#000000"]}, "legend": null}
              }
            },
            {
              "data": {"name": "d_pts"},
              "mark": {"type": "text", "fontWeight": "bold", "fontSize": 14, "lineBreak": "\n", "lineHeight": 17, "align": "center", "baseline": "middle", "color": "black"},
              "encoding": {"x": {"field": "lr", "type": "quantitative", "axis": null}, "y": {"field": "lv", "type": "quantitative", "axis": null}, "text": {"field": "lab"}}
            },
            {
              "data": {"name": "d_tag"},
              "mark": {"type": "text", "fontSize": 24, "align": "left", "baseline": "middle", "color": "black"},
              "encoding": {"x": {"field": "r", "type": "quantitative", "axis": null}, "y": {"field": "v", "type": "quantitative", "axis": null}, "text": {"field": "t"}}
            }
          ]
        }
      ],
      "spacing": 78
    }
  ],
  "spacing": 47
}
